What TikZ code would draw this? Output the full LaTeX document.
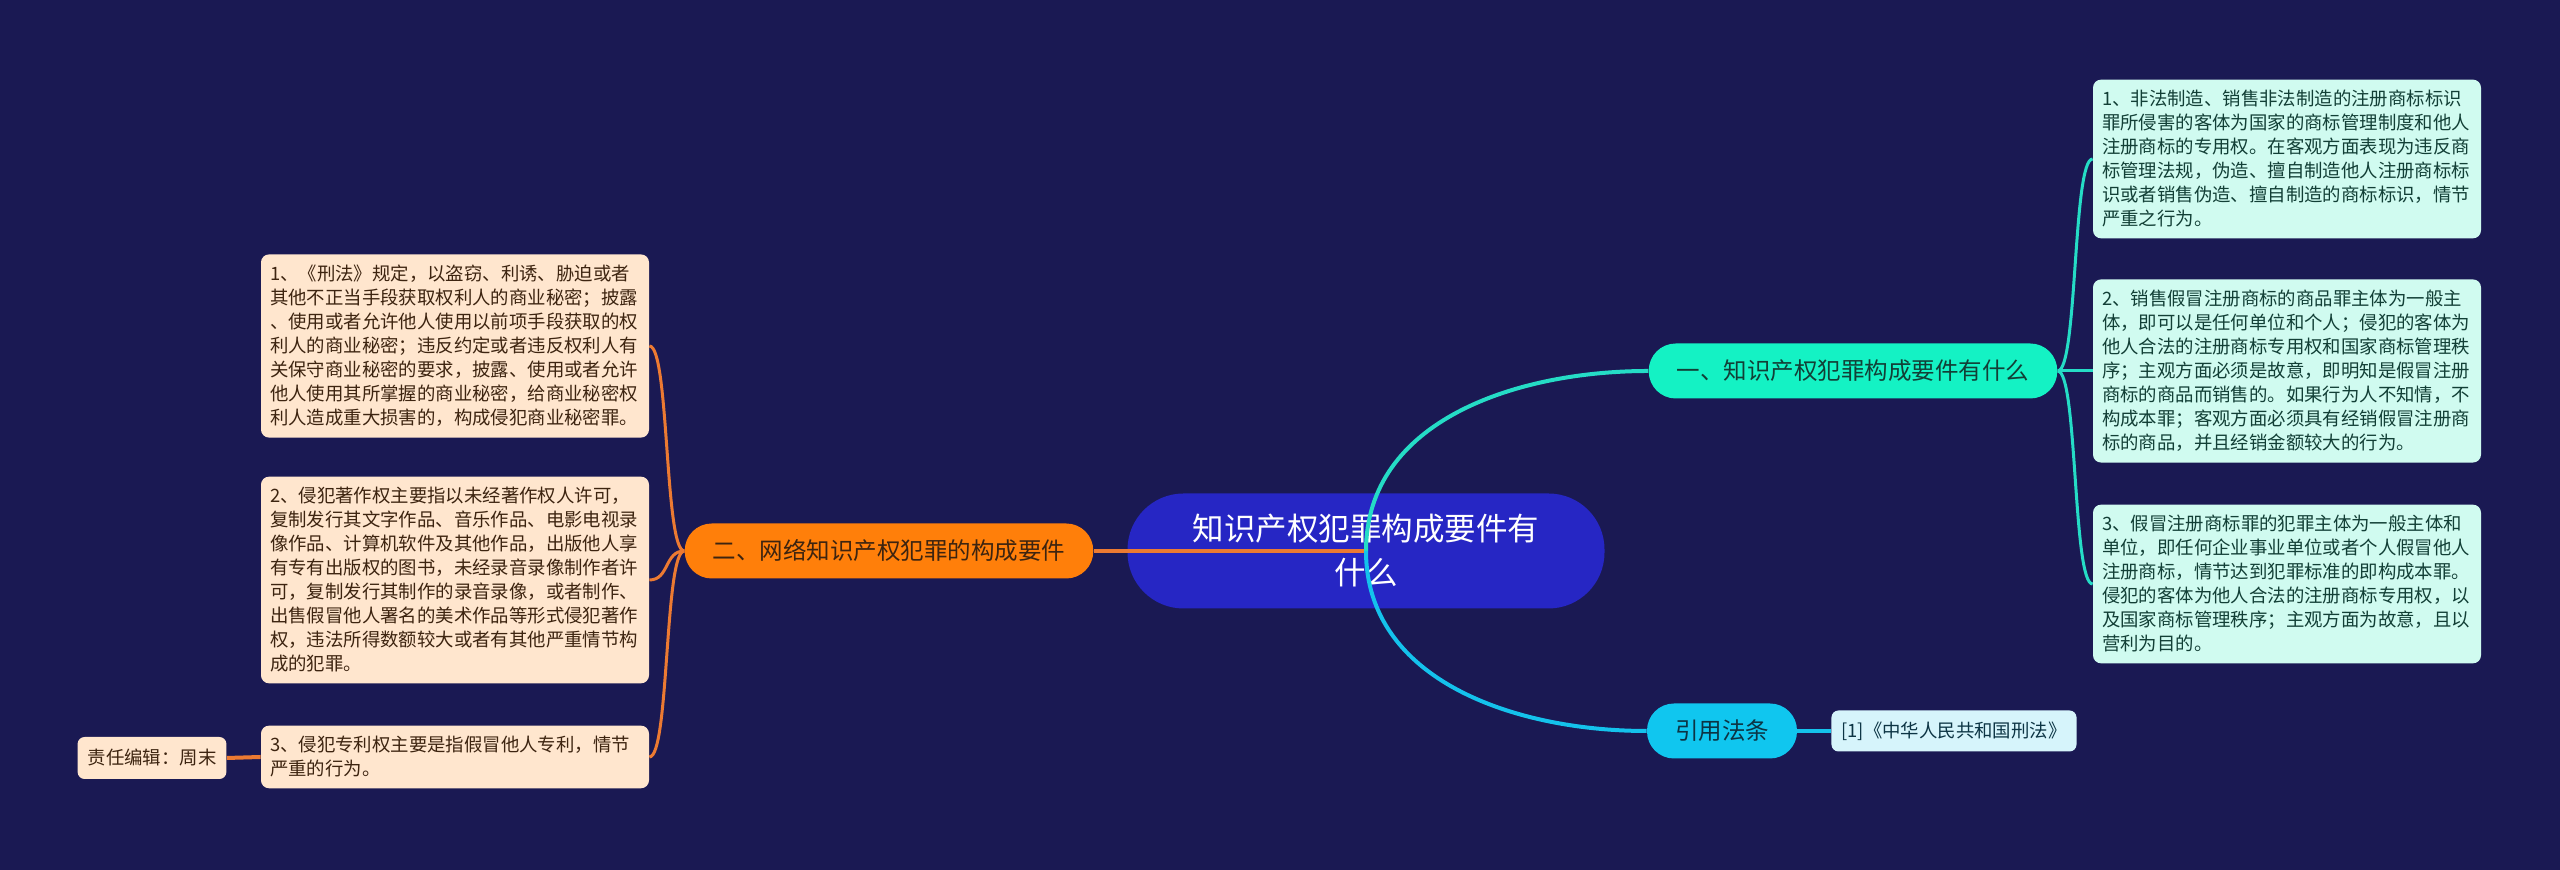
\documentclass[tikz,border=0pt]{standalone}
\usepackage{fontspec}
\setmainfont{Noto Sans CJK SC}

\definecolor{bgnavy}{HTML}{1A1953}
\definecolor{rootblue}{HTML}{2626C4}
\definecolor{orangeB}{HTML}{FF7F0A}
\definecolor{mintB}{HTML}{14F2C4}
\definecolor{skyB}{HTML}{10C6EF}
\definecolor{leafL}{HTML}{FFE6CE}
\definecolor{leafR}{HTML}{D0FBF0}
\definecolor{lawfill}{HTML}{D6F4FB}
\definecolor{brownT}{HTML}{3D2410}
\definecolor{tealT}{HTML}{123F36}
\definecolor{skyT}{HTML}{0C3444}
\definecolor{tealline}{HTML}{25DCC6}
\definecolor{skyline}{HTML}{14C2EC}
\definecolor{orangeline}{HTML}{EC7A32}

\begin{document}
\begin{tikzpicture}[x=0.5pt,y=0.5pt,
        root/.style={fill=rootblue,text=white,rounded corners=28pt,minimum width=238.5pt,
          minimum height=57.5pt,align=center,font=\fontsize{15.75}{22}\selectfont},
        branch/.style={rounded corners=13.5pt,minimum height=27.5pt,inner xsep=14pt,
          font=\fontsize{11.75}{14}\selectfont},
        leaf/.style={rounded corners=4pt,text width=185pt,align=left,inner xsep=4.5pt,
          inner ysep=5.4pt,font=\fontsize{9.2}{12}\selectfont},
        small/.style={rounded corners=3.5pt,inner xsep=5pt,minimum height=21pt,
          font=\fontsize{9.2}{12}\selectfont},
        oline/.style={draw=orangeline,line width=2pt},
        tline/.style={draw=tealline,line width=2pt},
        sline/.style={draw=skyline,line width=2pt}]

  \fill[bgnavy] (0,0) rectangle (2560,870);

  \node[root] (root) at (1366,319) {知识产权犯罪构成要件有\\什么};

  \node[branch,fill=orangeB,text=brownT] (b2) at (889,319) {二、网络知识产权犯罪的构成要件};
  \node[branch,fill=mintB,text=tealT] (b1) at (1853,499) {一、知识产权犯罪构成要件有什么};
  \node[branch,fill=skyB,text=skyT] (b3) at (1722,139) {引用法条};

  \node[leaf,fill=leafR,text=tealT] (r1) at (2287,711) {1、非法制造、销售非法制造的注册商标标识\\罪所侵害的客体为国家的商标管理制度和他人\\注册商标的专用权。在客观方面表现为违反商\\标管理法规，伪造、擅自制造他人注册商标标\\识或者销售伪造、擅自制造的商标标识，情节\\严重之行为。};
  \node[leaf,fill=leafR,text=tealT] (r2) at (2287,499) {2、销售假冒注册商标的商品罪主体为一般主\\体，即可以是任何单位和个人；侵犯的客体为\\他人合法的注册商标专用权和国家商标管理秩\\序；主观方面必须是故意，即明知是假冒注册\\商标的商品而销售的。如果行为人不知情，不\\构成本罪；客观方面必须具有经销假冒注册商\\标的商品，并且经销金额较大的行为。};
  \node[leaf,fill=leafR,text=tealT] (r3) at (2287,286) {3、假冒注册商标罪的犯罪主体为一般主体和\\单位，即任何企业事业单位或者个人假冒他人\\注册商标，情节达到犯罪标准的即构成本罪。\\侵犯的客体为他人合法的注册商标专用权，以\\及国家商标管理秩序；主观方面为故意，且以\\营利为目的。};

  \node[leaf,fill=leafL,text=brownT] (l1) at (455,524) {1、《刑法》规定，以盗窃、利诱、胁迫或者\\其他不正当手段获取权利人的商业秘密；披露\\、使用或者允许他人使用以前项手段获取的权\\利人的商业秘密；违反约定或者违反权利人有\\关保守商业秘密的要求，披露、使用或者允许\\他人使用其所掌握的商业秘密，给商业秘密权\\利人造成重大损害的，构成侵犯商业秘密罪。};
  \node[leaf,fill=leafL,text=brownT] (l2) at (455,290) {2、侵犯著作权主要指以未经著作权人许可，\\复制发行其文字作品、音乐作品、电影电视录\\像作品、计算机软件及其他作品，出版他人享\\有专有出版权的图书，未经录音录像制作者许\\可，复制发行其制作的录音录像，或者制作、\\出售假冒他人署名的美术作品等形式侵犯著作\\权，违法所得数额较大或者有其他严重情节构\\成的犯罪。};
  \node[leaf,fill=leafL,text=brownT] (l3) at (455,113) {3、侵犯专利权主要是指假冒他人专利，情节\\严重的行为。};

  \node[small,fill=leafL,text=brownT] (editor) at (152,112) {责任编辑：周末};
  \node[small,fill=lawfill,text=skyT,minimum height=20.5pt] (law) at (1954,139) {[1]《中华人民共和国刑法》};

  \path (root.center) edge[oline] (b2.east)
        (root.center) edge[tline,out=90,in=180] (b1.west)
        (root.center) edge[sline,out=-90,in=180] (b3.west)
        (b3.east) edge[sline] (law.west)
        (l3.west) edge[oline] (editor.east);

  \draw[tline,line width=1.5pt] (b1.east) .. controls +(20,0) and +(-20,0) .. (r1.west);
  \draw[tline,line width=1.5pt] (b1.east) -- (r2.west);
  \draw[tline,line width=1.5pt] (b1.east) .. controls +(20,0) and +(-20,0) .. (r3.west);

  \draw[oline,line width=1.5pt] (b2.west) .. controls +(-20,0) and +(20,0) .. (l1.east);
  \draw[oline,line width=1.5pt] (b2.west) .. controls +(-20,0) and +(20,0) .. (l2.east);
  \draw[oline,line width=1.5pt] (b2.west) .. controls +(-20,0) and +(20,0) .. (l3.east);

\end{tikzpicture}
\end{document}
